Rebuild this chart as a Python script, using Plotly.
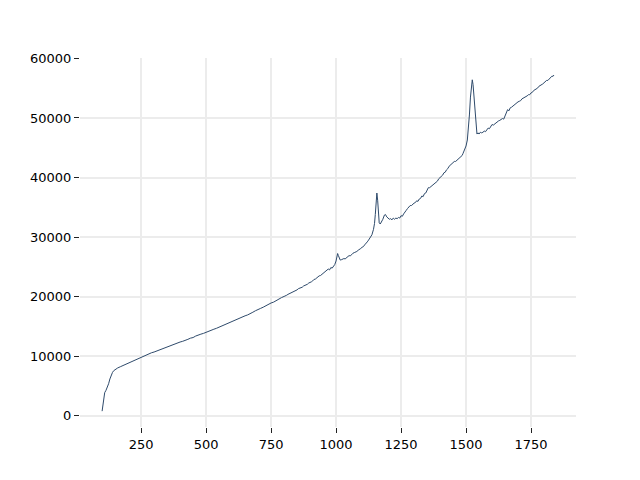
import plotly.graph_objects as go

# Segment A: 100 - 790 cm-1
wn_a = [100, 103, 106, 110, 115, 120, 125, 130, 135, 140, 145, 150, 160, 170, 180, 190,
        200, 210, 220, 230, 240, 250, 260, 270, 280, 290, 300, 310, 320, 330, 340, 350,
        360, 370, 380, 390, 400, 410, 420, 430, 440, 450, 460, 470, 480, 490, 500, 510,
        520, 530, 540, 550, 560, 570, 580, 590, 600, 610, 620, 630, 640, 650, 660, 670,
        680, 690, 700, 710, 720, 730, 740, 750, 760, 770, 780, 790]
int_a = [800, 2000, 3200, 3900, 4300, 4800, 5400, 6200, 6900, 7300, 7600, 7800, 8050, 8250, 8450, 8650,
         8900, 9100, 9280, 9500, 9680, 9880, 10020, 10250, 10380, 10600, 10720, 10900, 11050, 11250, 11380, 11600,
         11720, 11950, 12050, 12250, 12400, 12520, 12750, 12850, 13050, 13150, 13400, 13500, 13720, 13850, 14050, 14200,
         14350, 14550, 14700, 14900, 15050, 15300, 15450, 15700, 15850, 16000, 16250, 16380, 16600, 16800, 16950, 17250,
         17400, 17650, 17800, 18050, 18250, 18500, 18650, 18950, 19100, 19400, 19550, 19850]

# Segment B: 800 - 995 cm-1
wn_b = [800, 805, 810, 815, 820, 825, 830, 835, 840, 845, 850, 855, 860, 865, 870, 875,
        880, 885, 890, 895, 900, 905, 910, 915, 920, 925, 930, 935, 940, 945, 950, 955,
        960, 965, 970, 975, 980, 985, 990, 995]
int_b = [20050, 20100, 20250, 20400, 20500, 20550, 20700, 20850, 20900, 21050, 21150, 21350, 21400, 21450, 21600, 21800,
         21900, 21950, 22100, 22300, 22350, 22500, 22650, 22900, 22950, 23150, 23250, 23500, 23550, 23750, 23900, 24200,
         24300, 24450, 24650, 24500, 24900, 24800, 25050, 25400]

# Segment C: 1000 - 1195 cm-1 (bands near 1005 and 1157)
wn_c = [1000, 1003, 1006, 1009, 1012, 1016, 1020, 1025, 1030, 1035, 1040, 1045, 1050, 1055, 1060,
        1065, 1070, 1075, 1080, 1085, 1090, 1095, 1100, 1105, 1110, 1115, 1120, 1125, 1130, 1138,
        1144, 1148, 1151, 1154, 1157, 1160, 1163, 1166, 1170, 1175, 1180, 1186, 1190, 1195]
int_c = [26000, 26800, 27250, 26900, 26400, 26150, 26200, 26350, 26400, 26350, 26550, 26700, 26900, 26850, 27100,
         27300, 27400, 27450, 27600, 27800, 27900, 28100, 28300, 28400, 28700, 28900, 29200, 29500, 29800, 30400,
         31300, 32300, 33800, 36000, 37400, 36200, 33800, 32400, 32200, 32500, 33000, 33700, 33800, 33400]

# Segment D: 1200 - 1485 cm-1
wn_d = [1200, 1205, 1210, 1215, 1220, 1225, 1230, 1235, 1240, 1245, 1250, 1255, 1260, 1265, 1270,
        1275, 1280, 1285, 1290, 1295, 1300, 1305, 1310, 1315, 1320, 1325, 1330, 1335, 1340, 1345,
        1350, 1355, 1360, 1365, 1370, 1375, 1380, 1385, 1390, 1395, 1400, 1405, 1410, 1415, 1420,
        1425, 1430, 1435, 1440, 1445, 1450, 1455, 1460, 1465, 1470, 1475, 1480, 1485]
int_d = [33150, 33000, 33100, 32900, 33200, 33000, 33200, 33100, 33300, 33200, 33600, 33500, 33900, 34300, 34500,
         34800, 35000, 35300, 35300, 35600, 35700, 35800, 36100, 36000, 36400, 36500, 36900, 36800, 37300, 37400,
         37800, 38300, 38300, 38500, 38600, 38900, 39000, 39300, 39400, 39800, 40000, 40100, 40400, 40800, 40900,
         41300, 41500, 41900, 42100, 42200, 42400, 42700, 42700, 42900, 43100, 43300, 43500, 43700]

# Segment E: 1488 - 1546 cm-1 (band near 1525)
wn_e = [1488, 1495, 1500, 1505, 1509, 1513, 1517, 1521, 1524, 1527, 1530, 1533, 1536, 1539, 1542, 1546]
int_e = [44000, 44700, 45300, 46300, 48000, 50500, 53500, 55800, 56400, 55600, 53800, 51500, 49300, 47900, 47300, 47500]

# Segment F: 1550 - 1838 cm-1
wn_f = [1550, 1555, 1560, 1565, 1570, 1575, 1580, 1585, 1590, 1595, 1600, 1605, 1610, 1615, 1620,
        1625, 1630, 1635, 1640, 1645, 1650, 1655, 1660, 1665, 1670, 1675, 1680, 1685, 1690, 1695,
        1700, 1705, 1710, 1715, 1720, 1725, 1730, 1735, 1740, 1745, 1750, 1755, 1760, 1765, 1770,
        1775, 1780, 1785, 1790, 1795, 1800, 1805, 1810, 1815, 1820, 1825, 1830, 1835, 1838]
int_f = [47300, 47600, 47500, 47600, 47800, 47700, 48000, 48300, 48200, 48600, 48900, 48800, 49000, 49200, 49300,
         49500, 49600, 49700, 49900, 49800, 50300, 50800, 51400, 51200, 51700, 51800, 52000, 52100, 52300, 52600,
         52700, 52800, 52900, 53200, 53300, 53400, 53500, 53700, 53900, 53900, 54200, 54300, 54600, 54700, 54900,
         55000, 55300, 55400, 55600, 55700, 55900, 56100, 56300, 56300, 56600, 56800, 57000, 57000, 57200]

wavenumber = wn_a + wn_b + wn_c + wn_d + wn_e + wn_f
intensity = int_a + int_b + int_c + int_d + int_e + int_f
assert len(wavenumber) == len(intensity)

x_ticks = [250, 500, 750, 1000, 1250, 1500, 1750]
y_ticks = [0, 10000, 20000, 30000, 40000, 50000, 60000]

fig = go.Figure()
fig.add_trace(go.Scatter(x=wavenumber, y=intensity, mode="lines",
                         line=dict(color="#2e4a6b", width=1), showlegend=False))

axis_common = dict(showline=False, zeroline=False, showgrid=True,
                   gridcolor="#ececec", gridwidth=1.5,
                   ticks="outside", ticklen=5, tickwidth=1, tickcolor="#222222",
                   tickfont=dict(family="DejaVu Sans", size=13, color="#000000"))

fig.update_layout(
    width=640, height=480,
    margin=dict(l=72, r=72, t=50, b=61),
    paper_bgcolor="white", plot_bgcolor="white",
    xaxis=dict(range=[15, 1923], tickvals=x_ticks, ticktext=[str(v) for v in x_ticks], **axis_common),
    yaxis=dict(range=[-1860, 60060], tickvals=y_ticks, ticktext=[str(v) for v in y_ticks], **axis_common),
)

fig.write_html("out.html")
